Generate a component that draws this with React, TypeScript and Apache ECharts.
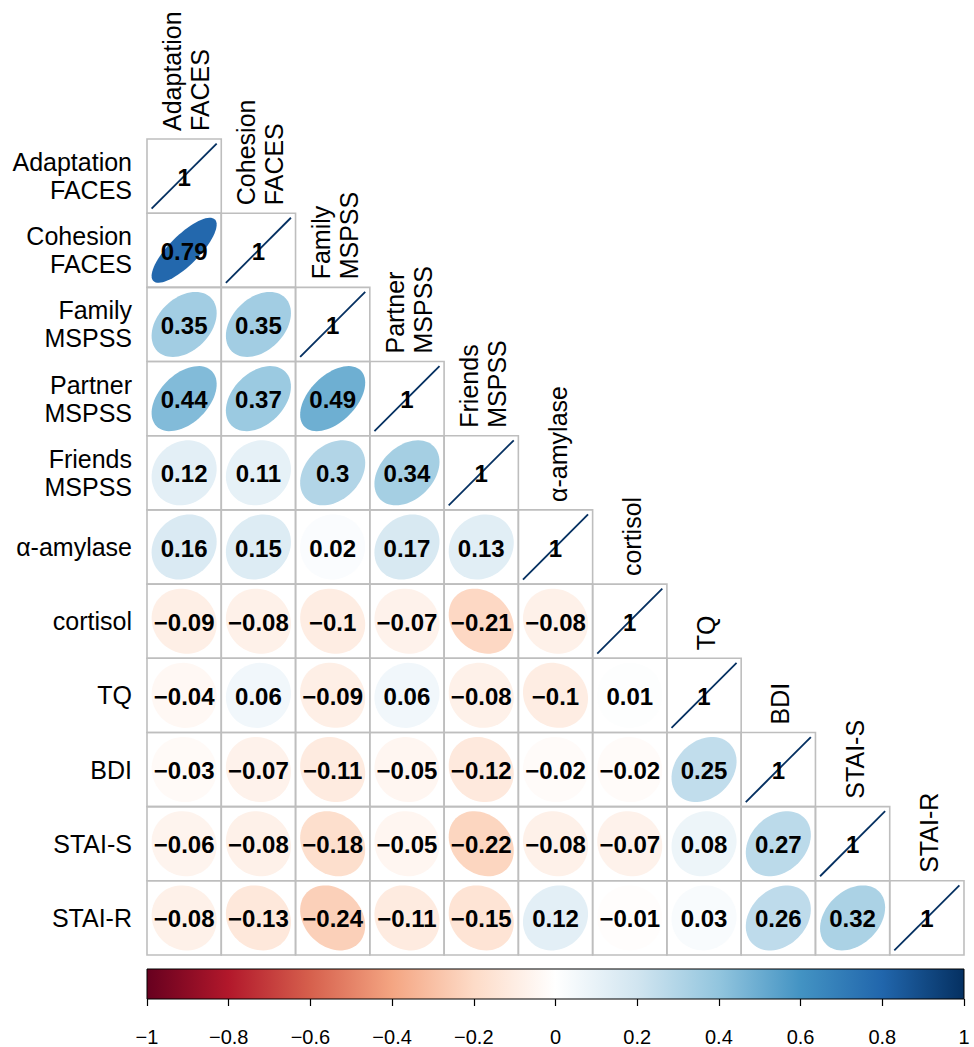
import React, { useEffect, useRef } from "react";
import * as echarts from "echarts";

const variables = [
  "Adaptation\nFACES",
  "Cohesion\nFACES",
  "Family\nMSPSS",
  "Partner\nMSPSS",
  "Friends\nMSPSS",
  "α-amylase",
  "cortisol",
  "TQ",
  "BDI",
  "STAI-S",
  "STAI-R",
];

// lower-triangle correlation rows (row i has i+1 values)
const row0 = [1];
const row1 = [0.79, 1];
const row2 = [0.35, 0.35, 1];
const row3 = [0.44, 0.37, 0.49, 1];
const row4 = [0.12, 0.11, 0.3, 0.34, 1];
const row5 = [0.16, 0.15, 0.02, 0.17, 0.13, 1];
const row6 = [-0.09, -0.08, -0.1, -0.07, -0.21, -0.08, 1];
const row7 = [-0.04, 0.06, -0.09, 0.06, -0.08, -0.1, 0.01, 1];
const row8 = [-0.03, -0.07, -0.11, -0.05, -0.12, -0.02, -0.02, 0.25, 1];
const row9 = [-0.06, -0.08, -0.18, -0.05, -0.22, -0.08, -0.07, 0.08, 0.27, 1];
const row10 = [-0.08, -0.13, -0.24, -0.11, -0.15, 0.12, -0.01, 0.03, 0.26, 0.32, 1];
const corrRows = [row0, row1, row2, row3, row4, row5, row6, row7, row8, row9, row10];

const colorbarMin = -1;
const colorbarMax = 1;
const colorbarInterval = 0.2;

const palette = [
  "#67001F", "#B2182B", "#D6604D", "#F4A582", "#FDDBC7", "#FFFFFF",
  "#D1E5F0", "#92C5DE", "#4393C3", "#2166AC", "#053061",
];

const FONT = "'Liberation Sans', Arial, Helvetica, sans-serif";

function hexToRgb(h: string) {
  return [parseInt(h.slice(1, 3), 16), parseInt(h.slice(3, 5), 16), parseInt(h.slice(5, 7), 16)];
}

function colorFor(r: number) {
  const pos = ((r + 1) / 2) * (palette.length - 1);
  const k = Math.min(palette.length - 2, Math.max(0, Math.floor(pos)));
  const t = pos - k;
  const a = hexToRgb(palette[k]);
  const b = hexToRgb(palette[k + 1]);
  const c = a.map((v, idx) => Math.round(v + (b[idx] - v) * t));
  return `rgb(${c[0]},${c[1]},${c[2]})`;
}

function fmt(v: number) {
  const s = String(Number(v.toFixed(2)));
  return s.replace("-", "\u2212");
}

export default function App() {
  const ref = useRef<HTMLDivElement>(null);

  useEffect(() => {
    if (!ref.current) return;
    const chart = echarts.init(ref.current, undefined, { renderer: "svg" });

    const data: number[][] = [];
    corrRows.forEach((row, i) => {
      row.forEach((r, j) => data.push([j, i, r]));
    });

    const renderItem = (params: any, api: any) => {
      const j = api.value(0);
      const i = api.value(1);
      const r = api.value(2);
      const c = api.coord([j, i]);
      const sz = api.size([1, 1]);
      const w = sz[0];
      const h = sz[1];
      const s = 0.438 * w;
      const children: any[] = [];
      children.push({
        type: "rect",
        shape: { x: c[0] - w / 2, y: c[1] - h / 2, width: w, height: h },
        style: { fill: "none", stroke: "#BEBEBE", lineWidth: 1.6 },
      });
      if (i === j) {
        children.push({
          type: "line",
          shape: { x1: c[0] - s, y1: c[1] + s, x2: c[0] + s, y2: c[1] - s },
          style: { stroke: "#053061", lineWidth: 1.8 },
        });
        children.push({
          type: "text",
          x: c[0] + 2,
          y: c[1] - h / 2 - 8,
          rotation: Math.PI / 2,
          style: {
            text: variables[j],
            fontSize: 25,
            fontFamily: FONT,
            fill: "#000",
            align: "left",
            verticalAlign: "middle",
            lineHeight: 28,
          },
        });
      } else {
        const d = Math.acos(r);
        const pts: number[][] = [];
        const n = 72;
        for (let k = 0; k < n; k++) {
          const t = (k / n) * Math.PI * 2;
          pts.push([c[0] + s * Math.cos(t + d / 2), c[1] - s * Math.cos(t - d / 2)]);
        }
        children.push({
          type: "polygon",
          shape: { points: pts },
          style: { fill: colorFor(r) },
        });
      }
      children.push({
        type: "text",
        x: c[0],
        y: c[1] + 1,
        style: {
          text: fmt(r),
          fontSize: 24,
          fontWeight: "bold",
          fontFamily: FONT,
          fill: "#000",
          align: "center",
          verticalAlign: "middle",
        },
      });
      return { type: "group", children };
    };

    const stops = palette.map((col, k) => ({ offset: k / (palette.length - 1), color: col }));

    chart.setOption({
      animation: false,
      backgroundColor: "#fff",
      grid: [
        { left: 147, top: 139, width: 817, height: 816, containLabel: false },
        {
          left: 147,
          top: 969,
          width: 817,
          height: 30,
          show: true,
          backgroundColor: new echarts.graphic.LinearGradient(0, 0, 1, 0, stops),
          borderColor: "#000",
          borderWidth: 1,
        },
      ],
      xAxis: [
        {
          gridIndex: 0,
          type: "category",
          data: variables,
          show: false,
        },
        {
          gridIndex: 1,
          type: "value",
          min: colorbarMin,
          max: colorbarMax,
          interval: colorbarInterval,
          axisLine: { show: false },
          axisTick: { show: true, length: 7, lineStyle: { color: "#000", width: 1.2 } },
          splitLine: { show: false },
          axisLabel: {
            color: "#000",
            fontSize: 20,
            fontFamily: FONT,
            margin: 28,
            formatter: (v: number) => fmt(Math.round(v * 10) / 10),
          },
        },
      ],
      yAxis: [
        {
          gridIndex: 0,
          type: "category",
          data: variables,
          inverse: true,
          axisLine: { show: false },
          axisTick: { show: false },
          splitLine: { show: false },
          axisLabel: {
            color: "#000",
            fontSize: 25,
            fontFamily: FONT,
            lineHeight: 28,
            margin: 15,
            align: "right",
          },
        },
        {
          gridIndex: 1,
          type: "value",
          show: false,
          min: 0,
          max: 1,
        },
      ],
      series: [
        {
          type: "custom",
          xAxisIndex: 0,
          yAxisIndex: 0,
          clip: false,
          renderItem,
          data,
        },
      ],
    });

    return () => chart.dispose();
  }, []);

  return (
    <div
      ref={ref}
      style={{ position: "fixed", left: 0, top: 0, width: 974, height: 1047, background: "#fff" }}
    />
  );
}
